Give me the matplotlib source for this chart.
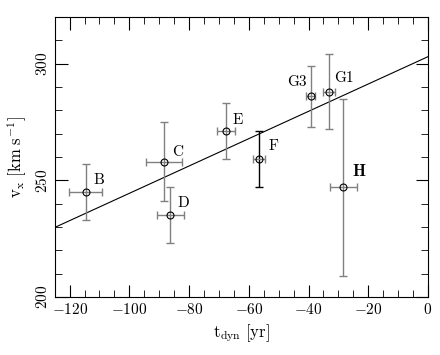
import matplotlib
matplotlib.use('Agg')
import matplotlib.pyplot as plt
import numpy as np

plt.rcParams['font.family'] = 'cmr10'
plt.rcParams['mathtext.fontset'] = 'cm'
plt.rcParams['axes.formatter.use_mathtext'] = True

names = ['B', 'C', 'D', 'E', 'F', 'G3', 'G1', 'H']
t_dyn = [-114.6, -88.4, -86.3, -67.5, -56.6, -39.2, -33.0, -28.3]
vx = [245.0, 258.0, 235.0, 271.0, 259.0, 286.0, 288.0, 247.0]
t_err = [5.5, 6.0, 4.5, 3.0, 2.0, 1.5, 2.0, 4.5]
v_err = [12.0, 17.0, 12.0, 12.0, 12.0, 13.0, 16.0, 38.0]
vbar_color = ['gray', 'gray', 'gray', 'gray', 'black', 'gray', 'gray', 'gray']

# label centres (data coords)
lab_t = [-110.1, -83.9, -82.0, -63.7, -51.6, -44.0, -28.1, -23.0]
lab_v = [250.0, 262.0, 240.4, 276.0, 264.5, 291.9, 294.0, 253.8]

fit_t = [-125, 0]
fit_v = [229.8, 303.0]

fig = plt.figure(figsize=(4.4, 3.55), dpi=100)
ax = fig.add_axes([54.7/440, 1-297/355, (428-54.7)/440, (297-17)/355])

ax.plot(fit_t, fit_v, color='black', lw=0.8)

for i in range(len(names)):
    ax.errorbar(t_dyn[i], vx[i], yerr=v_err[i], fmt='none', ecolor=vbar_color[i],
                elinewidth=1.0, capsize=3, capthick=1.0)
    ax.errorbar(t_dyn[i], vx[i], xerr=t_err[i], fmt='none', ecolor='gray',
                elinewidth=1.0, capsize=3, capthick=1.0)
    ax.plot(t_dyn[i], vx[i], 'o', mfc='none', mec='black', ms=5, mew=0.8)
    if names[i] == 'H':
        ax.text(lab_t[i], lab_v[i], names[i], fontsize=12, family='cmb10',
                ha='center', va='center')
    else:
        ax.text(lab_t[i], lab_v[i], names[i], fontsize=11, ha='center', va='center')

ax.set_xlim(-125, 0)
ax.set_ylim(200, 320)
ax.set_xticks([-120, -100, -80, -60, -40, -20, 0])
ax.set_xticks(np.arange(-125, 1, 5), minor=True)
ax.set_yticks([200, 250, 300])
ax.set_yticks(np.arange(200, 321, 10), minor=True)
ax.tick_params(which='both', direction='in', top=True, right=True, labelsize=11)
ax.tick_params(which='major', length=9)
ax.tick_params(which='minor', length=5)
for lab in ax.get_yticklabels():
    lab.set_rotation(90)
    lab.set_va('center')

ax.set_xlabel(r'$\mathrm{t_{dyn}\ [yr]}$', fontsize=12)
ax.set_ylabel(r'$\mathrm{v_x\ [km\ s^{-1}]}$', fontsize=12)

fig.savefig('out.png', dpi=100)
